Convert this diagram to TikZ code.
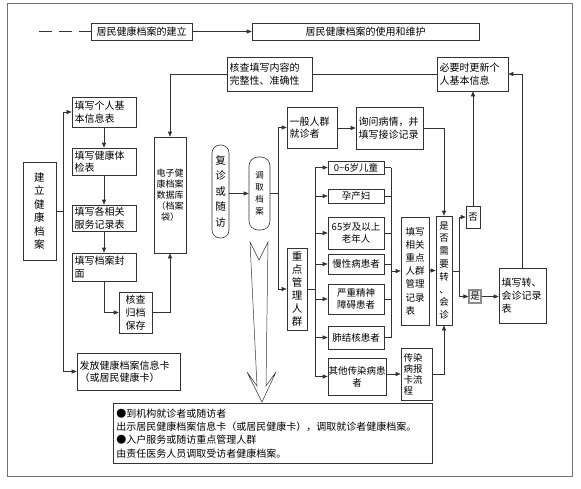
\documentclass[tikz,border=0pt]{standalone}
\usepackage{fontspec}
\newfontfamily\cjk{Noto Sans CJK SC}
\usetikzlibrary{arrows.meta}
\begin{document}
\begin{tikzpicture}[x=1pt,y=-1pt,
  ln/.style={draw=black!80,line width=0.6pt},
  arr/.style={ln,-{Triangle[length=5pt,width=4pt]}},
  box/.style={draw=black!80,line width=0.6pt,inner sep=1pt,align=left,font=\cjk\fontsize{10}{12.5}\selectfont},
  cbox/.style={box,align=center},
  lbox/.style={box,inner xsep=2.5pt,text width=#1},
  sbox/.style={cbox,minimum width=56pt,font=\cjk\fontsize{9.5}{12}\selectfont},
]
\useasboundingbox (0,0) rectangle (581,488);
\draw[draw=black!55,line width=0.8pt] (7,3) rectangle (572,476);

% legend
\node[box,minimum width=101pt,minimum height=17pt] (leg1) at (141.5,31.5) {居民健康档案的建立};
\node[box,minimum width=227pt,minimum height=17pt] (leg2) at (365.5,31.5) {居民健康档案的使用和维护};
\coordinate (dstart) at (39,31.5);
\draw[ln,dash pattern=on 12.5pt off 7.5pt] (dstart) -- (leg1.west);
\draw[arr] (leg1) -- (leg2);

% top boxes
\node[lbox=80pt,minimum height=34pt] (check) at (269.5,74) {核查填写内容的\\完整性、准确性};
\node[lbox=66pt,minimum height=34pt] (update) at (472.5,74) {必要时更新个\\人基本信息};

% left column
\node[cbox,minimum width=33pt,minimum height=98pt,font=\cjk\fontsize{10.5}{13.5}\selectfont] (build) at (39.5,211) {建\\立\\健\\康\\档\\案};
\node[lbox=59pt,minimum height=30pt] (f1) at (104,112) {填写个人基\\本信息表};
\node[lbox=59pt,minimum height=27pt] (f2) at (104,161.5) {填写健康体\\检表};
\node[lbox=59pt,minimum height=26pt] (f3) at (104,218) {填写各相关\\服务记录表};
\node[lbox=59pt,minimum height=28pt] (f4) at (104,267) {填写档案封\\面};
\node[cbox,minimum width=33pt,minimum height=41pt,font=\cjk\fontsize{10}{13}\selectfont] (archive) at (135.5,312.5) {核查\\归档\\保存};
\node[cbox,minimum width=32pt,minimum height=116pt,font=\cjk\fontsize{9}{11}\selectfont] (db) at (170,195) {电子健\\康档案\\数据库\\（档案\\袋）};
\node[lbox=98pt,minimum height=37pt] (card) at (128.5,371.5) {发放健康档案信息卡\\（或居民健康卡）};

% middle
\node[cbox,rounded corners=8pt,minimum width=17pt,minimum height=93pt,inner sep=0pt,font=\cjk\fontsize{10.5}{15.5}\selectfont] (revisit) at (220.5,191.5) {复\\诊\\或\\随\\访};
\node[cbox,rounded corners=9pt,minimum width=21pt,minimum height=73pt,inner sep=0pt,font=\cjk\fontsize{8.5}{12}\selectfont] (fetch) at (259.5,193.5) {调\\取\\档\\案};
\node[lbox=45pt,minimum height=41pt] (general) at (312,127.5) {一般人群\\就诊者};
\node[lbox=62pt,minimum height=42pt] (inquire) at (389.5,128) {询问病情，并\\填写接诊记录};
\node[cbox,minimum width=20pt,minimum height=82pt,font=\cjk\fontsize{10.5}{13}\selectfont] (key) at (297,289) {重\\点\\管\\理\\人\\群};

% sub groups
\node[sbox,minimum height=13pt] (s1) at (356,167.5) {0\textasciitilde 6岁儿童};
\node[sbox,minimum height=14pt] (s2) at (356,196) {孕产妇};
\node[sbox,minimum height=32pt] (s3) at (356,233) {65岁及以上\\老年人};
\node[sbox,minimum height=20pt] (s4) at (356,264) {慢性病患者};
\node[sbox,minimum height=30pt] (s5) at (356,299) {严重精神\\障碍患者};
\node[sbox,minimum height=23pt] (s6) at (356,337.5) {肺结核患者};
\node[sbox,minimum width=58pt,minimum height=37pt,inner sep=0.5pt] (s7) at (357,376.5) {其他传染病患\\者};

% right part
\node[box,minimum width=28pt,minimum height=108pt,font=\cjk\fontsize{9.5}{13.2}\selectfont] (rec) at (415,271) {填写\\相关\\重点\\人群\\管理\\记录\\表};
\node[cbox,minimum width=16pt,minimum height=109pt,inner sep=0pt,font=\cjk\fontsize{9.5}{12.8}\selectfont] (need) at (444,270.5) {是\\否\\需\\要\\转\\、\\会\\诊};
\node[cbox,minimum width=14pt,minimum height=22pt,font=\cjk\fontsize{9.5}{12}\selectfont] (no) at (473,217) {否};
\node[cbox,draw=black!45,line width=1.2pt,minimum width=12pt,minimum height=13pt,inner sep=0.3pt,font=\cjk\fontsize{9.5}{12}\selectfont] (yes) at (475,296.5) {是};
\node[lbox=42pt,minimum height=55pt,font=\cjk\fontsize{10}{13}\selectfont] (refer) at (522.5,295.5) {填写转、\\会诊记录\\表};
\node[lbox=26pt,minimum height=52pt,font=\cjk\fontsize{9.5}{11}\selectfont] (inf) at (416.5,374) {传染\\病报\\卡流\\程};

% note
\node[box,anchor=north west,text width=313pt,inner xsep=3pt,minimum height=60pt,font=\cjk\fontsize{10}{13.3}\selectfont] (note) at (113,403) {●到机构就诊者或随访者\\出示居民健康档案信息卡（或居民健康卡），调取就诊者健康档案。\\●入户服务或随访重点管理人群\\由责任医务人员调取受访者健康档案。};

% big hollow arrow
\draw[ln,line width=0.5pt] (250,242) -- (259,260) -- (268,242) -- (266,386) -- (276,372) -- (262,402) -- (247,372) -- (257,386) -- cycle;

% connectors
\draw[arr] (check.west) -| (db.north);
\draw[ln] (check.east) -- (update.west);
\coordinate (bj) at (63,211);
\draw[ln] (build.east) -- (bj);
\draw[arr] (bj) |- (f1.west);
\draw[arr] (bj) |- (card.west);
\draw[arr] (f1) -- (f2);
\draw[arr] (f2) -- (f3);
\draw[arr] (f3) -- (f4);
\draw[arr] (f4.south) |- (archive.west);
\draw[arr] (archive.east) -| (db.south);
\draw[arr] (revisit.east |- fetch.west) -- (fetch.west);
\coordinate (fj) at (278,193.5);
\draw[ln] (fetch.east) -- (fj);
\draw[arr] (fj) |- (general.west);
\draw[arr] (fj) |- (key.west);
\draw[arr] (general.east |- inquire.west) -- (inquire.west);
\draw[arr] (inquire.east) -| (need.north);
\coordinate (kj) at (315,289);
\draw[ln] (key.east) -- (kj);
\foreach \s in {s1,s2,s3,s4,s5,s6,s7} \draw[arr] (kj) |- (\s.west);
\coordinate (rbtop) at (391,167.5);
\coordinate (rbbot) at (391,337.5);
\draw[ln] (rbtop) -- (rbbot);
\foreach \s in {s1,s2,s3,s4,s5,s6} \draw[ln] (\s.east) -- (\s.east -| rbtop);
\draw[arr] (rbtop |- rec.west) -- (rec.west);
\draw[arr] (rec.east |- need.west) -- (need.west);
\coordinate (nj) at (459,271);
\draw[ln] (need.east |- nj) -- (nj);
\draw[arr] (nj) |- (no.west);
\draw[arr] (nj) |- (yes.west);
\draw[arr] (yes.east) -- (yes.east -| refer.west);
\draw[arr] (no.north) -- (no.north |- update.south);
\draw[arr] (refer.north) |- (update.east);
\draw[arr] (s7.east |- inf.west) -- (inf.west);
\draw[arr] (inf.east) -| (need.south);
\end{tikzpicture}
\end{document}
